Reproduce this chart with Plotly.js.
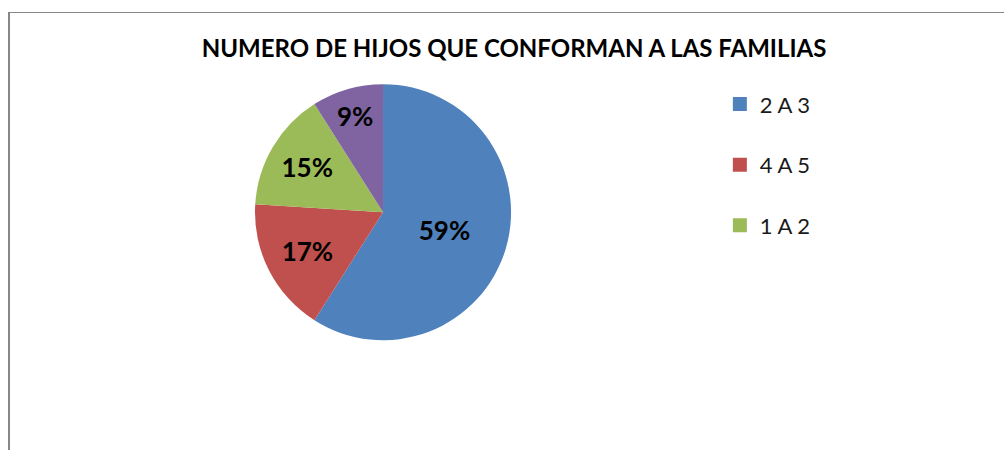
<!DOCTYPE html>
<html>
<head>
<meta charset="utf-8">
<script src="https://cdn.plot.ly/plotly-3.0.1.min.js"></script>
<style>
  html, body { margin: 0; padding: 0; background: #ffffff; }
  #wrap { position: relative; width: 1004px; height: 450px; overflow: hidden; }
  #chart { position: absolute; left: 0; top: 0; width: 1004px; height: 450px; }
  #frame { position: absolute; left: 8px; top: 12px; width: 1200px; height: 600px;
           border-left: 2px solid #878787; border-top: 1px solid #878787; pointer-events: none; }
</style>
</head>
<body>
<div id="wrap">
  <div id="chart"></div>
  <div id="frame"></div>
</div>
<script>
// Data
const titleText = "NUMERO DE HIJOS QUE CONFORMAN A LAS FAMILIAS";
const categories = ["2 A 3", "4 A 5", "1 A 2", "6 A 7"];
const values = [59, 17, 15, 9];
const colors = ["#4F81BD", "#C0504D", "#9BBB59", "#8064A2"];
const legendCategories = ["2 A 3", "4 A 5", "1 A 2"];

const pie = {
  type: "pie",
  labels: categories,
  values: values,
  sort: false,
  direction: "clockwise",
  rotation: 0,
  marker: { colors: colors, line: { width: 0 } },
  textinfo: "percent",
  texttemplate: "%{percent:.0%}",
  textposition: "inside",
  insidetextorientation: "horizontal",
  textfont: { family: "Lato, 'Open Sans', sans-serif", size: 26, color: "#000000", weight: "bold" },
  domain: { x: [0.2, 0.563], y: [0.244, 0.813] },
  showlegend: false,
  hoverinfo: "skip"
};

const legendTraces = legendCategories.map((name, i) => ({
  type: "scatter",
  mode: "markers",
  x: [null],
  y: [null],
  name: name,
  legendgroup: "g" + i,
  marker: { symbol: "square", size: 14, color: colors[categories.indexOf(name)] },
  hoverinfo: "skip",
  showlegend: true
}));

const layout = {
  width: 1004,
  height: 450,
  margin: { l: 0, r: 0, t: 0, b: 0 },
  paper_bgcolor: "#ffffff",
  plot_bgcolor: "#ffffff",
  title: {
    text: titleText,
    x: 0.512, xanchor: "center", xref: "paper",
    y: 0.893, yanchor: "middle", yref: "paper",
    font: { family: "Lato, 'Open Sans', sans-serif", size: 24, color: "#000000", weight: "bold" }
  },
  xaxis: { visible: false, domain: [0.9, 1] },
  yaxis: { visible: false, domain: [0, 0.1] },
  showlegend: true,
  legend: {
    x: 0.717, xanchor: "left",
    y: 0.815, yanchor: "top",
    bgcolor: "rgba(0,0,0,0)",
    font: { family: "Lato, 'Open Sans', sans-serif", size: 22, color: "#1a1a1a" },
    tracegroupgap: 29,
    itemwidth: 30,
    itemclick: false,
    itemdoubleclick: false
  },
  hovermode: false
};

Plotly.newPlot("chart", [pie].concat(legendTraces), layout, { displayModeBar: false, staticPlot: true });
</script>
</body>
</html>
